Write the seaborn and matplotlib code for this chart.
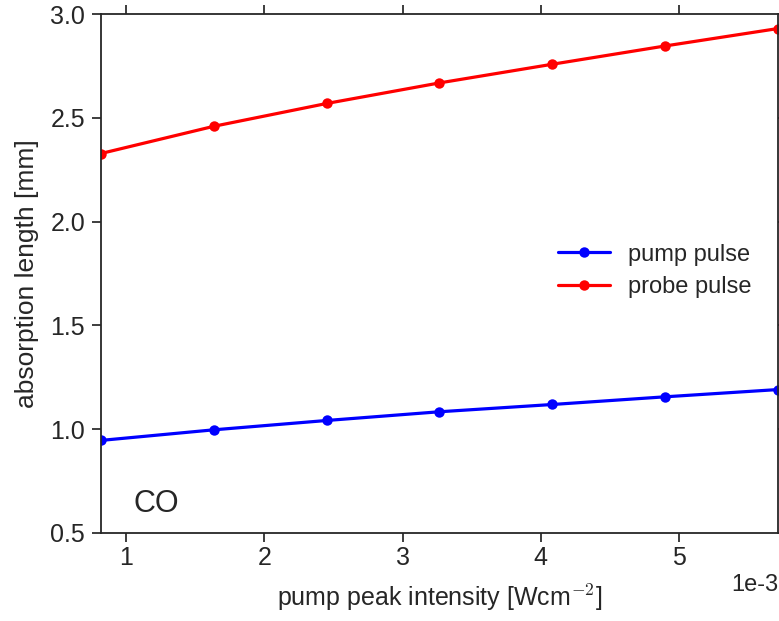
import matplotlib
matplotlib.use("Agg")
import matplotlib.pyplot as plt
import seaborn as sns
import pandas as pd

intensity = [0.817e-3, 1.633e-3, 2.450e-3, 3.266e-3, 4.083e-3, 4.899e-3, 5.716e-3]
pump_pulse = [0.946, 0.997, 1.042, 1.084, 1.119, 1.156, 1.191]
probe_pulse = [2.328, 2.459, 2.569, 2.668, 2.758, 2.846, 2.930]
series_names = ["pump pulse", "probe pulse"]
series_colors = ["#0000ff", "#ff0000"]

sns.set_style("ticks")
plt.rcParams['font.family'] = ['Liberation Sans', 'DejaVu Sans']
plt.rcParams['mathtext.fontset'] = 'cm'
plt.rcParams['axes.unicode_minus'] = False
plt.rcParams['xtick.top'] = True
plt.rcParams['ytick.right'] = True

df = pd.DataFrame({
    "x": intensity * 2,
    "y": pump_pulse + probe_pulse,
    "series": [series_names[0]] * len(intensity) + [series_names[1]] * len(intensity),
})

fig = plt.figure(figsize=(7.79, 6.21), dpi=100)
ax = fig.add_axes([101/779, 1 - 533/621, (778 - 101)/779, (533 - 14)/621])

sns.lineplot(data=df, x="x", y="y", hue="series", palette=series_colors,
             marker="o", markersize=7.5, markeredgewidth=0, linewidth=2.3,
             ax=ax, legend=True)

ax.set_xlim(intensity[0], intensity[-1])
ax.set_ylim(0.5, 3.0)
ax.set_yticks([0.5, 1.0, 1.5, 2.0, 2.5, 3.0])
ax.ticklabel_format(axis='x', style='sci', scilimits=(-3, -3))
ax.xaxis.get_offset_text().set_fontsize(17)
ax.xaxis.get_offset_text().set_color('#262626')
ax.tick_params(axis='both', labelsize=18, colors='#262626', length=6.5, width=1.25,
               direction='out', pad=5)
ax.tick_params(axis='x', pad=3)
ax.tick_params(top=True, right=True)
for sp in ax.spines.values():
    sp.set_visible(True)
    sp.set_color('#262626')
    sp.set_linewidth(1.3)

ax.set_xlabel(r"pump peak intensity [Wcm$^{-2}$]", fontsize=18, color='#262626', labelpad=9)
ax.set_ylabel("absorption length [mm]", fontsize=19, color='#262626', labelpad=8)

ax.text(1.05e-3, 0.6, "CO", fontsize=22, color='#262626')

leg = ax.legend(loc='center left', bbox_to_anchor=(0.675, 0.505), frameon=False,
                fontsize=17, handlelength=2.2, handletextpad=0.75, labelspacing=0.45,
                borderpad=0, borderaxespad=0)
for t in leg.get_texts():
    t.set_color('#262626')

fig.savefig("out.png", dpi=100)
